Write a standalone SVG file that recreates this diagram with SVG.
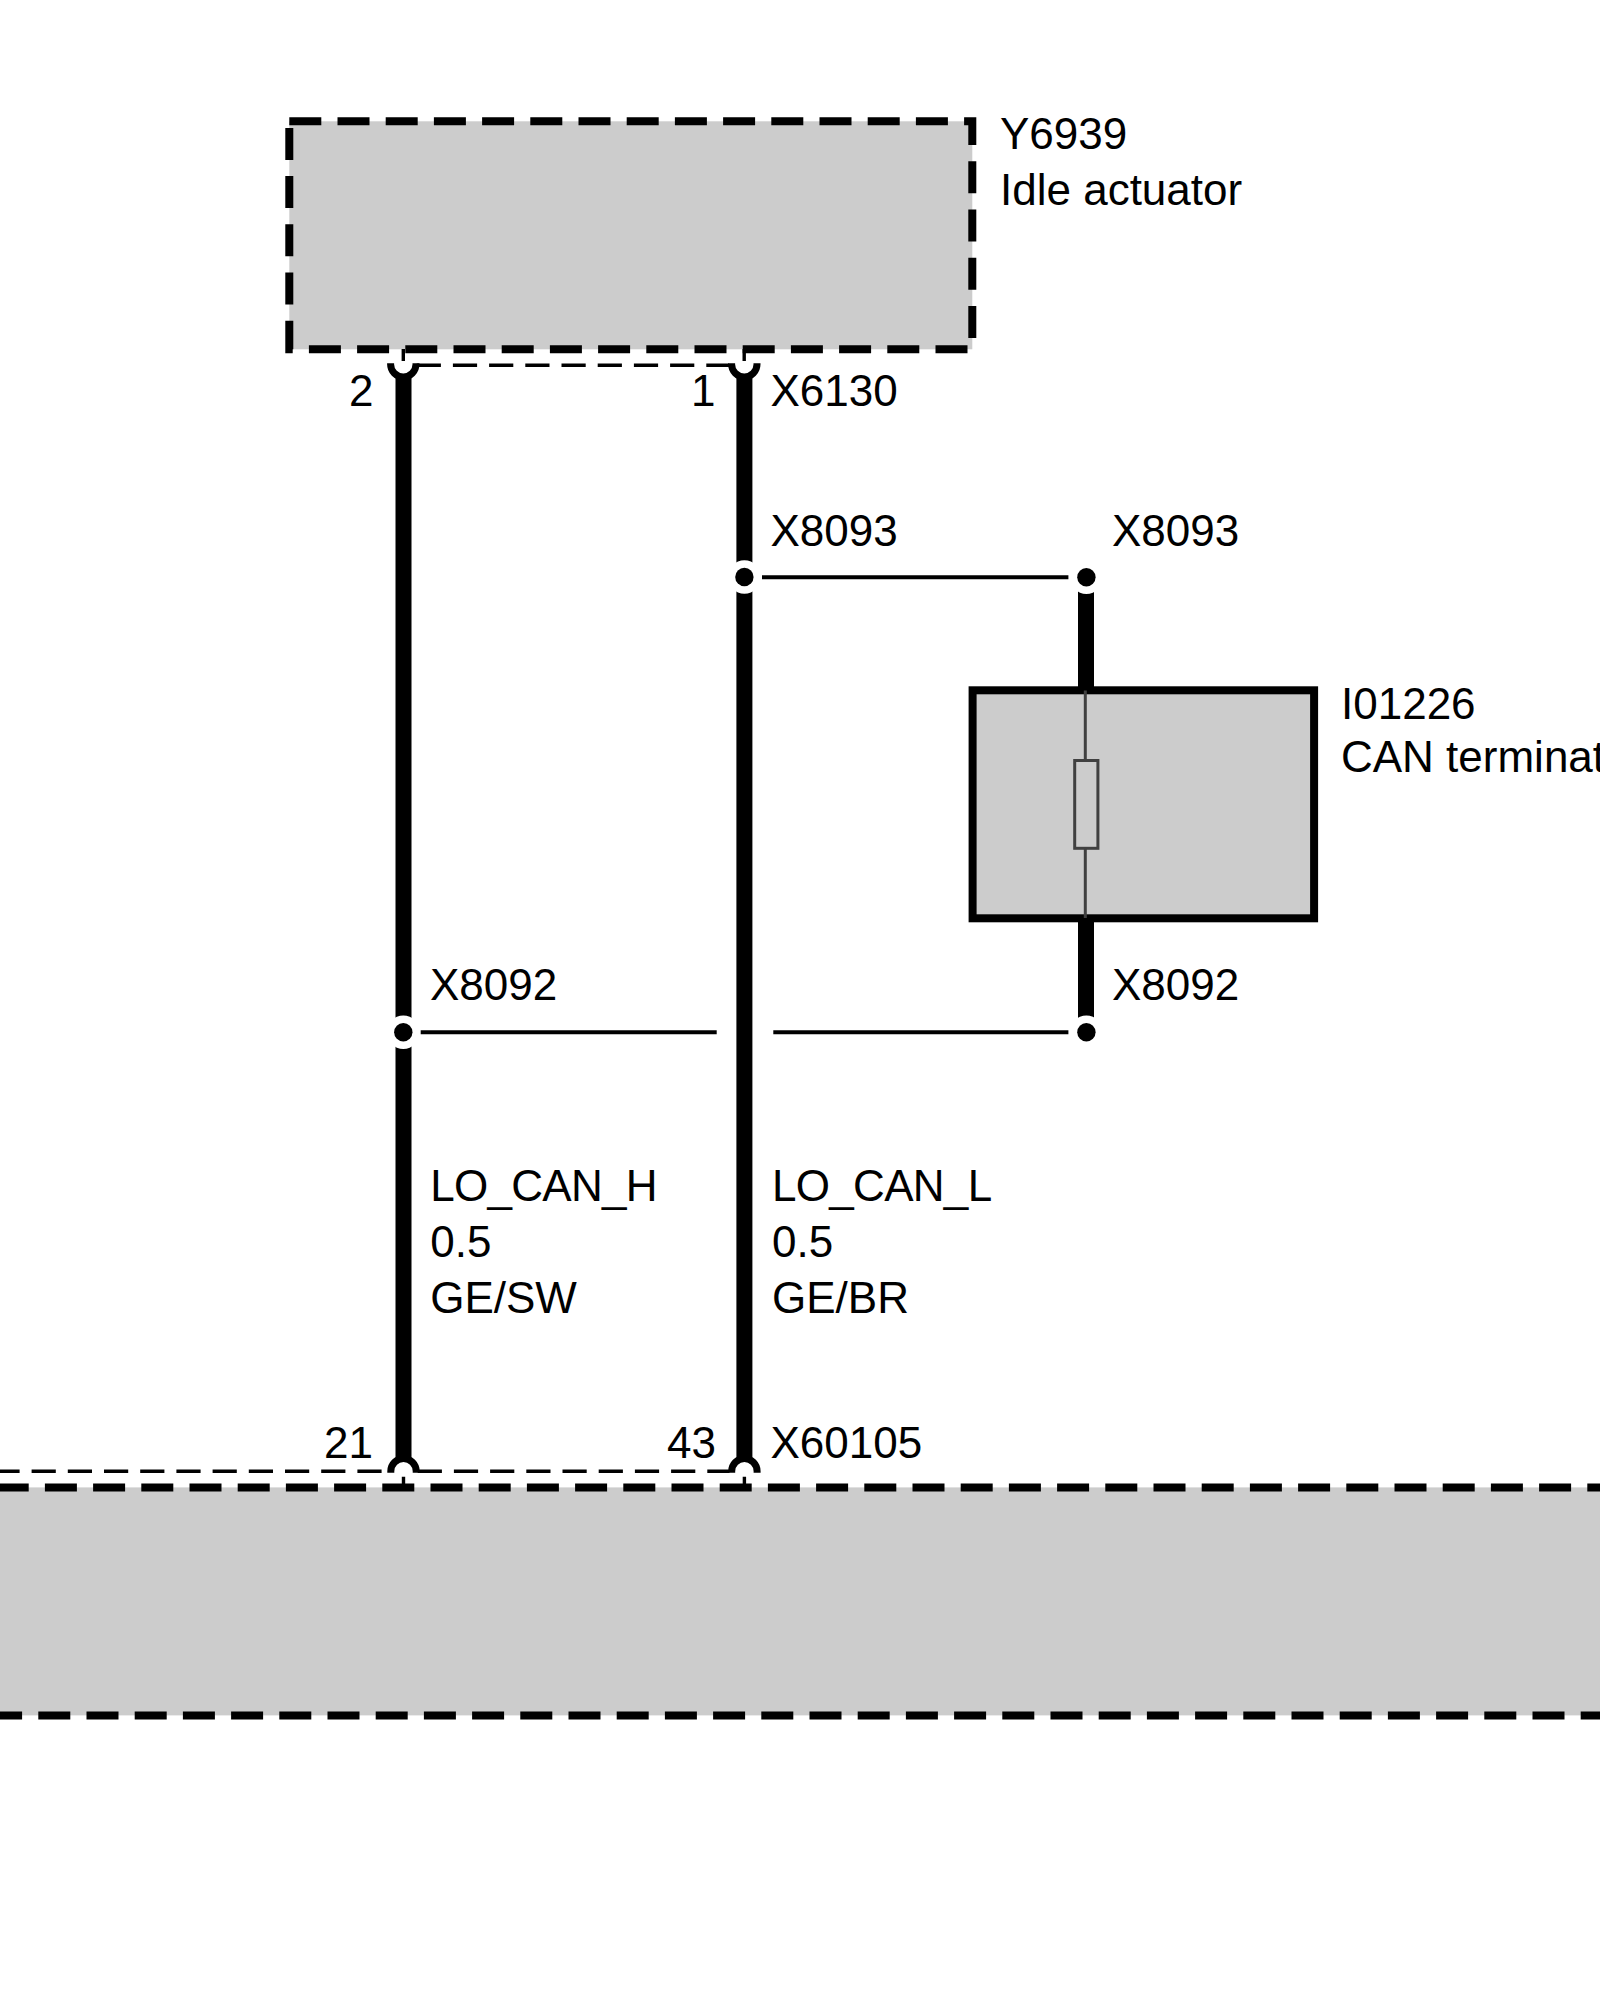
<svg xmlns="http://www.w3.org/2000/svg" width="1600" height="2000" viewBox="0 0 1600 2000">
<style>
text{font-family:"Liberation Sans",Arial,sans-serif;font-size:44px;fill:#000}
.end{text-anchor:end}
.tight{letter-spacing:-0.7px}
.ctl{fill:#ccc;stroke:#000;stroke-width:8;stroke-dasharray:32 16.2}
.grey{fill:#ccc;stroke:none}
.dash8{fill:none;stroke:#000;stroke-width:8;stroke-dasharray:32 16.2}
.wire{fill:none;stroke:#000;stroke-width:16}
.thin{fill:none;stroke:#000;stroke-width:4}
.shield{fill:none;stroke:#000;stroke-width:3.5;stroke-dasharray:24.2 12}
.cup{fill:none;stroke:#000;stroke-width:7}
.stub{fill:none;stroke:#000;stroke-width:3.4}
.halo{fill:#fff}
.res{fill:none;stroke:#404040;stroke-width:3}
</style>
<rect width="1600" height="2000" fill="#fff"/>
<g id="Y6939">
<rect class="ctl" x="289.3" y="121.3" width="683" height="228"/>
<text x="1000" y="149.3">Y6939</text>
<text x="1000" y="205">Idle actuator</text>
</g>
<g id="ECU">
<rect class="grey" x="-10" y="1487.4" width="1620" height="228"/>
<line class="dash8" x1="-3.3" y1="1487.4" x2="1640" y2="1487.4"/>
<line class="dash8" x1="-9.9" y1="1715.4" x2="1640" y2="1715.4"/>
</g>
<g id="I01226">
<rect x="972.6" y="690.3" width="341.5" height="228" fill="#ccc" stroke="#000" stroke-width="8"/>
<path class="res" d="M1085.3 690.5V760M1085.3 848.3V918"/>
<rect class="res" x="1074.7" y="760.5" width="23.2" height="87.8"/>
<text x="1341" y="719.3">I01226</text>
<text x="1341" y="771.5">CAN terminat</text>
</g>
<g id="connectors">
<line class="wire" x1="403.5" y1="375" x2="403.5" y2="1460"/>
<line class="wire" x1="744.4" y1="375" x2="744.4" y2="1460"/>
<line class="wire" x1="1086" y1="577.3" x2="1086" y2="690"/>
<line class="wire" x1="1086" y1="918" x2="1086" y2="1032.3"/>
<line class="thin" x1="762" y1="577.2" x2="1068.4" y2="577.2"/>
<line class="thin" x1="420.7" y1="1032.3" x2="716.7" y2="1032.3"/>
<line class="thin" x1="773.3" y1="1032.3" x2="1068.4" y2="1032.3"/>
<line class="shield" x1="416.7" y1="365.3" x2="729" y2="365.3"/>
<line class="shield" x1="-4.6" y1="1471.3" x2="381.6" y2="1471.3"/>
<line class="shield" x1="417.7" y1="1471.3" x2="729.5" y2="1471.3"/>
<path class="cup" d="M390.6 363.3V364.3A12.7 12.7 0 0 0 416 364.3V363.3"/>
<path class="cup" d="M731.6 363.3V364.3A12.7 12.7 0 0 0 757 364.3V363.3"/>
<path class="cup" d="M390.8 1472.7V1471.3A12.7 12.7 0 0 1 416.2 1471.3V1472.7"/>
<path class="cup" d="M731.7 1472.7V1471.3A12.7 12.7 0 0 1 757.1 1471.3V1472.7"/>
<path class="stub" d="M403.3 349V361M744.2 349V361M403.5 1476.7V1487M744.4 1476.7V1487"/>
</g>
<g id="junction-X8093-left">
<circle class="halo" cx="744.4" cy="577" r="16.7"/>
<circle cx="744.4" cy="577" r="9.2"/>
<text x="770.5" y="546.3">X8093</text>
</g>
<g id="junction-X8093-right">
<circle class="halo" cx="1086.4" cy="577.3" r="16.7"/>
<circle cx="1086.4" cy="577.3" r="9.2"/>
<text x="1112" y="546.3">X8093</text>
</g>
<g id="junction-X8092-left">
<circle class="halo" cx="403.3" cy="1032.3" r="16.7"/>
<circle cx="403.3" cy="1032.3" r="9.2"/>
<text x="430" y="1000.3">X8092</text>
</g>
<g id="junction-X8092-right">
<circle class="halo" cx="1086.4" cy="1032.3" r="16.7"/>
<circle cx="1086.4" cy="1032.3" r="9.2"/>
<text x="1112" y="1000.3">X8092</text>
</g>
<g id="labels">
<text class="end" x="373.5" y="406">2</text>
<text class="end" x="715.5" y="406">1</text>
<text x="770.5" y="406">X6130</text>
<text class="tight" x="430.2" y="1200.7">LO_CAN_H</text>
<text x="430.2" y="1256.5">0.5</text>
<text x="430.2" y="1313.3">GE/SW</text>
<text class="tight" x="772" y="1200.7">LO_CAN_L</text>
<text x="772" y="1256.5">0.5</text>
<text x="772" y="1313.3">GE/BR</text>
<text class="end" x="373" y="1457.7">21</text>
<text class="end" x="716" y="1457.7">43</text>
<text x="770.5" y="1457.7">X60105</text>
</g>
</svg>
